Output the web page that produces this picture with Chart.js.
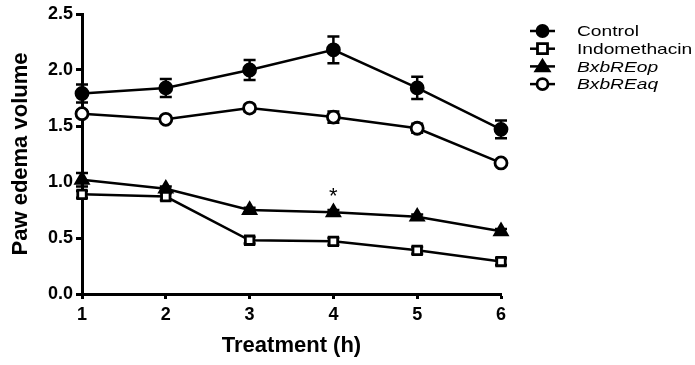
<!DOCTYPE html>
<html>
<head>
<meta charset="utf-8">
<script src="https://cdn.jsdelivr.net/npm/chart.js@4"></script>
<style>
  html, body { margin: 0; padding: 0; background: #fff; }
  #wrap { width: 695px; height: 365px; position: relative; }
</style>
</head>
<body>
<div id="wrap"><canvas id="pawChart"></canvas></div>
<script>
// time points (h)
const hours = [1, 2, 3, 4, 5, 6];

// mean paw edema volume per group
const control      = [1.79, 1.84, 2.00, 2.18, 1.84, 1.47];
const indomethacin = [0.89, 0.87, 0.48, 0.47, 0.39, 0.29];
const bxbREop      = [1.02, 0.94, 0.75, 0.73, 0.69, 0.56];
const bxbREaq      = [1.61, 1.56, 1.66, 1.58, 1.48, 1.17];

// error (SEM)
const controlErr      = [0.08, 0.08, 0.09, 0.12, 0.10, 0.08];
const indomethacinErr = [0.03, 0.03, 0.03, 0.03, 0.03, 0.03];
const bxbREopErr      = [0.06, 0.02, 0.02, 0.02, 0.02, 0.02];
const bxbREaqErr      = [0.03, 0.02, 0.03, 0.05, 0.04, 0.02];

const yTicks = [0, 0.5, 1.0, 1.5, 2.0, 2.5];

// significance mark
const starHour = 4;
const starValue = 0.90;

const FONT = "'Liberation Sans', Arial, sans-serif";

function pts(vals) {
    return hours.map((h, i) => ({ x: h, y: vals[i] }));
}

function makeSet(label, vals, err, style, fill, italic) {
    return {
        label: label,
        data: pts(vals),
        errors: err,
        italic: italic,
        clip: false,
        borderColor: '#000',
        borderWidth: 2.5,
        pointStyle: style,
        pointRadius: style === 'triangle' ? 7 : 6,
        pointBorderWidth: 2.8,
        pointBackgroundColor: fill,
        pointBorderColor: '#000',
        tension: 0
    };
}

// error bars drawn behind the markers
const errorBars = {
    id: 'errorBars',
    beforeDatasetsDraw(chart) {
        const ctx = chart.ctx;
        const xs = chart.scales.x, ys = chart.scales.y;
        ctx.save();
        ctx.strokeStyle = '#000';
        ctx.lineWidth = 2.5;
        chart.data.datasets.forEach(ds => {
            ds.data.forEach((p, i) => {
                const e = ds.errors[i];
                const px = xs.getPixelForValue(p.x);
                const top = ys.getPixelForValue(p.y + e);
                const bot = ys.getPixelForValue(p.y - e);
                ctx.beginPath();
                ctx.moveTo(px, top); ctx.lineTo(px, bot);
                ctx.moveTo(px - 6, top); ctx.lineTo(px + 6, top);
                ctx.moveTo(px - 6, bot); ctx.lineTo(px + 6, bot);
                ctx.stroke();
            });
        });
        ctx.restore();
    },
    afterDatasetsDraw(chart) {
        const ctx = chart.ctx;
        const xs = chart.scales.x, ys = chart.scales.y;
        ctx.save();
        ctx.fillStyle = '#000';
        ctx.font = '22px ' + FONT;
        ctx.textAlign = 'center';
        ctx.textBaseline = 'middle';
        ctx.fillText('*', xs.getPixelForValue(starHour), ys.getPixelForValue(starValue) + 4);
        ctx.restore();
    }
};

// legend with line + marker, like the original figure
const sideLegend = {
    id: 'sideLegend',
    afterDraw(chart) {
        const ctx = chart.ctx;
        const x0 = 530, x1 = 555, tx = 577;
        const cx = (x0 + x1) / 2;
        let y = 31;
        ctx.save();
        chart.data.datasets.forEach(ds => {
            ctx.strokeStyle = '#000';
            ctx.lineWidth = 2.5;
            ctx.beginPath();
            ctx.moveTo(x0, y); ctx.lineTo(x1, y);
            ctx.stroke();
            ctx.fillStyle = ds.pointBackgroundColor;
            ctx.lineWidth = ds.pointBorderWidth;
            ctx.beginPath();
            if (ds.pointStyle === 'circle') {
                ctx.arc(cx, y, 5.5, 0, Math.PI * 2);
            } else if (ds.pointStyle === 'rect') {
                ctx.rect(cx - 5, y - 5, 10, 10);
            } else {
                ctx.moveTo(cx, y - 6);
                ctx.lineTo(cx + 6.5, y + 4.5);
                ctx.lineTo(cx - 6.5, y + 4.5);
                ctx.closePath();
            }
            ctx.fill();
            ctx.stroke();
            // text in the figure is a little wide, stretch it
            ctx.fillStyle = '#000';
            ctx.font = (ds.italic ? 'italic ' : '') + '15px ' + FONT;
            ctx.textAlign = 'left';
            ctx.textBaseline = 'middle';
            ctx.save();
            ctx.translate(tx, y + 1);
            ctx.scale(1.28, 1);
            ctx.fillText(ds.label, 0, 0);
            ctx.restore();
            y += 17.7;
        });
        ctx.restore();
    }
};

const ctx = document.getElementById('pawChart').getContext('2d');
new Chart(ctx, {
    type: 'line',
    data: {
        datasets: [
            makeSet('Control', control, controlErr, 'circle', '#000', false),
            makeSet('Indomethacin', indomethacin, indomethacinErr, 'rect', '#fff', false),
            makeSet('BxbREop', bxbREop, bxbREopErr, 'triangle', '#000', true),
            makeSet('BxbREaq', bxbREaq, bxbREaqErr, 'circle', '#fff', true)
        ]
    },
    options: {
        responsive: true,
        maintainAspectRatio: false,
        animation: false,
        layout: { padding: { left: 0, top: 14, right: 194, bottom: 0 } },
        plugins: {
            legend: { display: false },
            tooltip: { enabled: false }
        },
        scales: {
            x: {
                type: 'linear',
                min: 1,
                max: 6,
                afterFit(scale) { scale.height = 71; },
                afterBuildTicks(scale) { scale.ticks = hours.map(v => ({ value: v })); },
                border: { display: true, color: '#000', width: 3 },
                grid: { display: true, drawOnChartArea: false, drawTicks: true, tickLength: 5, tickWidth: 3, tickColor: '#000' },
                ticks: {
                    color: '#000',
                    padding: 5,
                    font: { family: FONT, size: 18, weight: 'bold' }
                },
                title: {
                    display: true,
                    text: 'Treatment (h)',
                    color: '#000',
                    padding: { top: 4, bottom: 6 },
                    font: { family: FONT, size: 22, weight: 'bold' }
                }
            },
            y: {
                min: 0,
                max: 2.5,
                afterFit(scale) { scale.width = 82; },
                afterBuildTicks(scale) { scale.ticks = yTicks.map(v => ({ value: v })); },
                border: { display: true, color: '#000', width: 3 },
                grid: { display: true, drawOnChartArea: false, drawTicks: true, tickLength: 6, tickWidth: 3, tickColor: '#000' },
                ticks: {
                    color: '#000',
                    padding: 3,
                    callback: v => v.toFixed(1),
                    font: { family: FONT, size: 18, weight: 'bold' }
                },
                title: {
                    display: true,
                    text: 'Paw edema volume',
                    color: '#000',
                    padding: { top: 8, bottom: 4 },
                    font: { family: FONT, size: 22, weight: 'bold' }
                }
            }
        }
    },
    plugins: [errorBars, sideLegend]
});
</script>
</body>
</html>
